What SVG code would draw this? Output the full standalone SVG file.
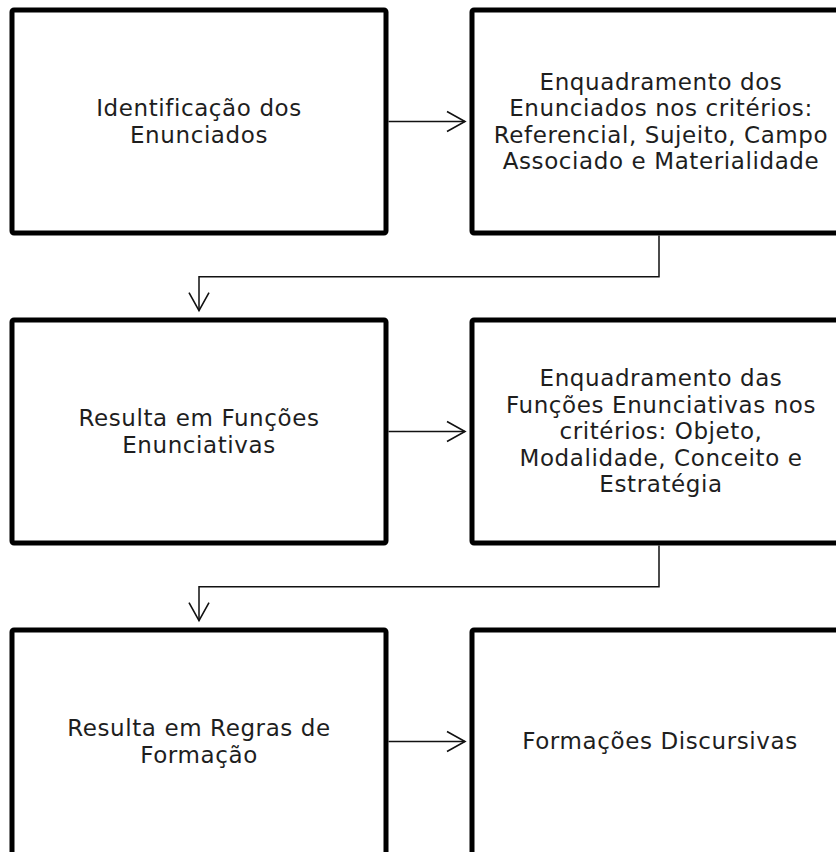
<svg xmlns="http://www.w3.org/2000/svg" width="836" height="852" viewBox="0 0 836 852">
<style>
.box{fill:#fff;stroke:#000;stroke-width:5;stroke-linejoin:round}
.lbl{font-family:"DejaVu Sans","Open Sans",sans-serif;font-size:23px;letter-spacing:0.6px;fill:#1e1e1e;text-anchor:middle}
.con{fill:none;stroke:#111;stroke-width:1.5}
</style>
<defs>
<marker id="arr" markerUnits="userSpaceOnUse" markerWidth="22" markerHeight="24" refX="20" refY="12" orient="auto">
<path d="M2,2 L20,12 L2,22" fill="none" stroke="#111" stroke-width="1.6"/>
</marker>
</defs>
<rect width="836" height="852" fill="#fff"/>
<g id="n1"><rect class="box" x="12" y="10" width="374" height="223" rx="2"/>
<text class="lbl" x="199" y="116">Identificação dos</text>
<text class="lbl" x="199" y="142.5">Enunciados</text></g>
<g id="n2"><rect class="box" x="472" y="10" width="374" height="223" rx="2"/>
<text class="lbl" x="661" y="89.5">Enquadramento dos</text>
<text class="lbl" x="661" y="116">Enunciados nos critérios:</text>
<text class="lbl" x="661" y="142.5">Referencial, Sujeito, Campo</text>
<text class="lbl" x="661" y="169">Associado e Materialidade</text></g>
<g id="n3"><rect class="box" x="12" y="320" width="374" height="223" rx="2"/>
<text class="lbl" x="199" y="426">Resulta em Funções</text>
<text class="lbl" x="199" y="452.5">Enunciativas</text></g>
<g id="n4"><rect class="box" x="472" y="320" width="374" height="223" rx="2"/>
<text class="lbl" x="661" y="386">Enquadramento das</text>
<text class="lbl" x="661" y="412.5">Funções Enunciativas nos</text>
<text class="lbl" x="661" y="439">critérios: Objeto,</text>
<text class="lbl" x="661" y="465.5">Modalidade, Conceito e</text>
<text class="lbl" x="661" y="492">Estratégia</text></g>
<g id="n5"><rect class="box" x="12" y="630" width="374" height="228" rx="2"/>
<text class="lbl" x="199" y="736">Resulta em Regras de</text>
<text class="lbl" x="199" y="762.5">Formação</text></g>
<g id="n6"><rect class="box" x="472" y="630" width="374" height="228" rx="2"/>
<text class="lbl" x="660" y="749">Formações Discursivas</text></g>
<g id="connectors">
<path class="con" d="M388.5,121.5 H465" marker-end="url(#arr)"/>
<path class="con" d="M659,235.5 V276.7 H199 V310.7" marker-end="url(#arr)"/>
<path class="con" d="M388.5,431.5 H465" marker-end="url(#arr)"/>
<path class="con" d="M659,545.5 V586.7 H199 V620.7" marker-end="url(#arr)"/>
<path class="con" d="M388.5,741.5 H465" marker-end="url(#arr)"/>
</g>
</svg>
